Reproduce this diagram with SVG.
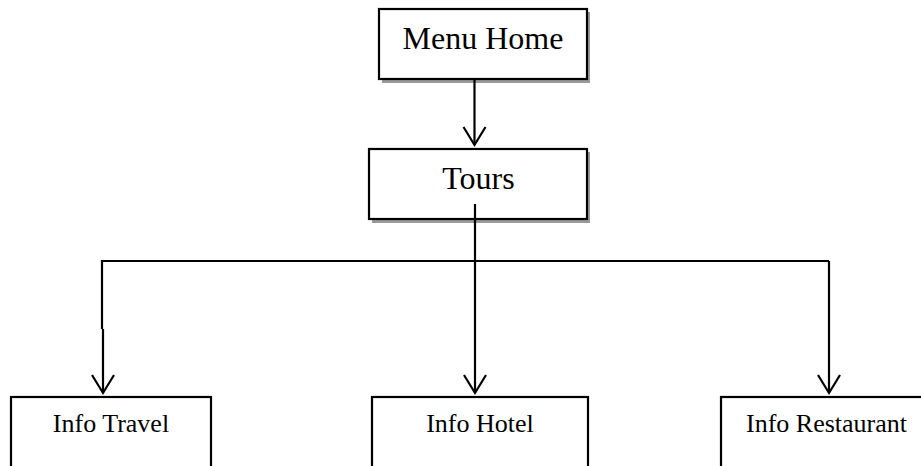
<svg xmlns="http://www.w3.org/2000/svg" width="921" height="466" viewBox="0 0 921 466">
<defs>
<style>
.box{fill:#fff;stroke:#000;stroke-width:2.2}
.shadow{fill:#999}
.t{font-family:"Liberation Serif","Times New Roman",serif;fill:#000;text-anchor:middle}
.big{font-size:32px}
.small{font-size:26px}
.ln{fill:none;stroke:#000;stroke-width:2.2}
</style>
</defs>
<rect width="921" height="466" fill="#fff"/>
<g id="menu-home">
<rect class="shadow" x="382" y="12" width="208" height="71"/>
<rect class="box" x="379" y="9" width="208" height="70"/>
<text class="t big" x="483" y="49">Menu Home</text>
</g>
<g id="tours">
<rect class="shadow" x="372" y="152" width="218" height="71"/>
<rect class="box" x="369" y="149" width="218" height="70"/>
<text class="t big" x="478.5" y="189">Tours</text>
</g>
<g id="info-travel">
<rect class="box" x="11" y="397" width="200" height="90"/>
<text class="t small" x="111" y="432">Info Travel</text>
</g>
<g id="info-hotel">
<rect class="box" x="372" y="397" width="216" height="90"/>
<text class="t small" x="480" y="432">Info Hotel</text>
</g>
<g id="info-restaurant">
<rect class="box" x="721" y="397" width="212" height="90"/>
<text class="t small" x="826.5" y="432">Info Restaurant</text>
</g>
<g id="connectors">
<path class="ln" d="M474.5,80 V145"/>
<path class="ln" d="M463.5,127 L474.5,145 L485.5,127"/>
<path class="ln" d="M475,204 V261"/>
<path class="ln" d="M102,262 V261 H829"/>
<path class="ln" d="M102,261 V329 M103,329 V393"/>
<path class="ln" d="M92,375 L103,393 L114,375"/>
<path class="ln" d="M475,261 V393"/>
<path class="ln" d="M464,375 L475,393 L486,375"/>
<path class="ln" d="M829,261 V393"/>
<path class="ln" d="M818,375 L829,393 L840,375"/>
</g>
</svg>
